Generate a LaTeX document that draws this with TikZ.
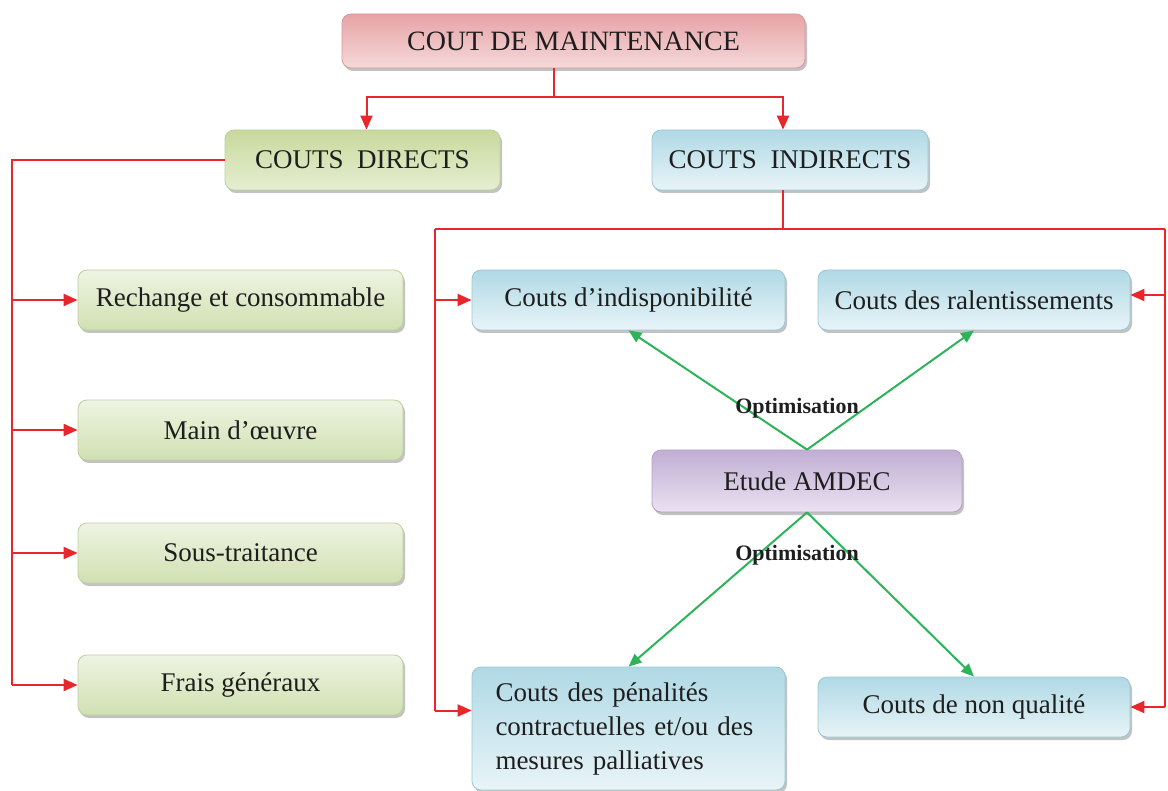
\documentclass[tikz,border=0pt]{standalone}
\usepackage{fontspec}
\setmainfont{Liberation Serif}
\usetikzlibrary{arrows.meta,shadows}
\definecolor{redline}{HTML}{E8262C}
\definecolor{greenline}{HTML}{2DB35A}
\definecolor{rTop}{HTML}{E7A3A6}
\definecolor{rBot}{HTML}{F5D9D9}
\definecolor{rEdge}{HTML}{D8999B}
\definecolor{gTop}{HTML}{EEF4E2}
\definecolor{gBot}{HTML}{D1E0B2}
\definecolor{gEdge}{HTML}{BFCF9E}
\definecolor{gdTop}{HTML}{C8D99C}
\definecolor{gdBot}{HTML}{E6EED2}
\definecolor{bTop}{HTML}{B0D9E5}
\definecolor{bBot}{HTML}{E8F4F8}
\definecolor{bEdge}{HTML}{9CC8D6}
\definecolor{pTop}{HTML}{C0AED4}
\definecolor{pBot}{HTML}{EAE2F1}
\definecolor{pEdge}{HTML}{B2A0C6}
\definecolor{txt}{HTML}{1E1E1E}
\begin{document}
\begin{tikzpicture}[x=1pt,y=-1pt,
  basebox/.style={rounded corners=9pt, inner sep=0pt, line width=0.8pt,
    drop shadow={shadow xshift=2pt,shadow yshift=-3pt,opacity=0.4,fill=black!60},
    font=\fontsize{27}{34}\selectfont, text=txt},
  redbox/.style={basebox, top color=rTop, bottom color=rBot, draw=rEdge},
  greenbox/.style={basebox, top color=gTop, bottom color=gBot, draw=gEdge},
  greendbox/.style={basebox, top color=gdTop, bottom color=gdBot, draw=gEdge},
  bluebox/.style={basebox, top color=bTop, bottom color=bBot, draw=bEdge},
  purplebox/.style={basebox, top color=pTop, bottom color=pBot, draw=pEdge},
  rline/.style={draw=redline, color=redline, line width=2pt},
  rarrow/.style={rline, -{Triangle[length=14pt,width=12pt]}},
  garrow/.style={draw=greenline, color=greenline, line width=2pt, -{Triangle[length=13pt,width=11pt]}},
  optlabel/.style={font=\bfseries\fontsize{22}{26}\selectfont, text=txt, inner sep=1pt}
]
\useasboundingbox (0,0) rectangle (1168,791);

% boxes
\node[redbox, minimum width=463pt, minimum height=54pt, font=\fontsize{28}{33}\selectfont] (root) at (573.5,41) {COUT DE MAINTENANCE};
\node[greendbox, minimum width=275pt, minimum height=60pt] (dir) at (362.5,160) {COUTS\ \ DIRECTS};
\node[bluebox, minimum width=276pt, minimum height=60pt] (ind) at (790,160) {COUTS\ \ INDIRECTS};

\node[greenbox, minimum width=325pt, minimum height=60pt] (g1) at (240.5,300) {Rechange et consommable};
\node[greenbox, minimum width=325pt, minimum height=60pt] (g2) at (240.5,430) {Main d'œuvre};
\node[greenbox, minimum width=325pt, minimum height=60pt] (g3) at (240.5,553) {Sous-traitance};
\node[greenbox, minimum width=325pt, minimum height=60pt] (g4) at (240.5,685) {Frais généraux};

\node[bluebox, minimum width=313pt, minimum height=60pt] (b1) at (628.5,300) {Couts d'indisponibilité};
\node[bluebox, minimum width=312pt, minimum height=60pt] (b2) at (974,300) {Couts des ralentissements};
\node[purplebox, minimum width=310pt, minimum height=62pt] (am) at (807,481) {Etude AMDEC};
\node[bluebox, minimum width=313pt, minimum height=123pt, text width=266pt, align=left] (b3) at (628.5,728.5) {Couts des pénalités\\contractuelles et/ou des\\mesures palliatives};
\node[bluebox, minimum width=312pt, minimum height=60pt] (b4) at (974,707) {Couts de non qualité};

\begin{scope}[color=redline]
% top connectors
\coordinate (rootb) at ([xshift=-20pt]root.south);
\draw[rline] (rootb) -- ++(0,29) coordinate (j1);
\draw[rarrow] (j1) -| ([xshift=4pt]dir.north);
\draw[rarrow] (j1) -| ([xshift=-7pt]ind.north);

% direct costs
\coordinate (dl) at (12,160);
\draw[rline] (dir.west) -- (dl) -- (dl |- g4.west);
\draw[rarrow] (dl |- g1.west) -- (g1.west);
\draw[rarrow] (dl |- g2.west) -- (g2.west);
\draw[rarrow] (dl |- g3.west) -- (g3.west);
\draw[rarrow] (dl |- g4.west) -- (g4.west);

% indirect costs
\coordinate (il) at (435,229);
\coordinate (ir) at (1165,229);
\coordinate (indb) at ([xshift=-7pt]ind.south);
\coordinate (b3in) at ([yshift=18pt]b3.west);
\coordinate (b2in) at ([yshift=5pt]b2.east);
\draw[rline] (indb) -- (indb |- il);
\draw[rline] (il) -- (ir);
\draw[rline] (il) -- (il |- b3in);
\draw[rline] (ir) -- (ir |- b4.east);
\draw[rarrow] (il |- b1.west) -- (b1.west);
\draw[rarrow] (il |- b3in) -- (b3in);
\draw[rarrow] (ir |- b2in) -- (b2in);
\draw[rarrow] (ir |- b4.east) -- (b4.east);
\end{scope}

% optimisation arrows
\begin{scope}[color=greenline]
\draw[garrow] (am.north) -- (b1.south);
\draw[garrow] (am.north) -- (b2.south);
\draw[garrow] (am.south) -- (b3.north);
\draw[garrow] (am.south) -- (b4.north);
\end{scope}
\node[optlabel] (o1) at (797,408) {Optimisation};
\node[optlabel] (o2) at (797,555) {Optimisation};
\end{tikzpicture}
\end{document}
